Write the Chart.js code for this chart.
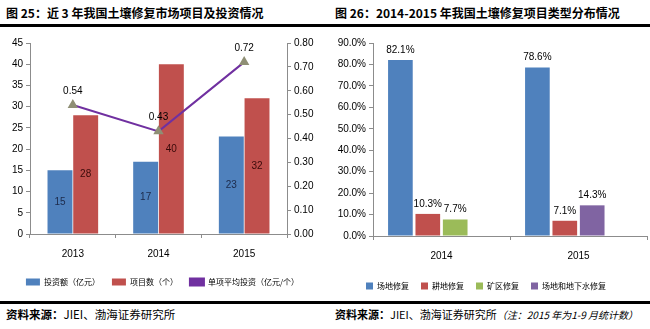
<!DOCTYPE html>
<html>
<head>
<meta charset="utf-8">
<script src="https://cdn.jsdelivr.net/npm/chart.js@4/dist/chart.umd.min.js"></script>
<style>
  body { margin:0; width:650px; height:329px; background:#fff; position:relative; overflow:hidden;
         font-family:"Noto Sans CJK SC", sans-serif; color:#000; }
  .title { position:absolute; top:5px; font-size:12px; font-weight:bold; white-space:nowrap; line-height:16px; }
  .rule { position:absolute; left:0; width:650px; height:3px; background:#000; }
  .panel { position:absolute; top:28px; width:325px; height:272px; }
  .src { position:absolute; top:306px; font-size:11.5px; white-space:nowrap; line-height:16px; }
  .src b { font-weight:bold; }
  .src i { font-size:10px; }
</style>
</head>
<body>
<div class="title" style="left:6px">图 25：近 3 年我国土壤修复市场项目及投资情况</div>
<div class="title" style="left:335px">图 26：2014-2015 年我国土壤修复项目类型分布情况</div>
<div class="rule" style="top:24px"></div>
<div class="panel" style="left:0"><canvas id="projChart"></canvas></div>
<div class="panel" style="left:325px"><canvas id="typeChart"></canvas></div>
<div class="rule" style="top:301px"></div>
<div class="src" style="left:6px"><b>资料来源：</b>JIEI、渤海证券研究所</div>
<div class="src" style="left:335px;font-size:11px"><b>资料来源：</b>JIEI、渤海证券研究所<i>（注：2015 年为1-9 月统计数）</i></div>

<script>
// fig 25
var years = ['2013', '2014', '2015'];
var investment = [15, 17, 23];       // 投资额（亿元）
var projects = [28, 40, 32];         // 项目数（个）
var avgInvest = [0.54, 0.43, 0.72];  // 单项平均投资（亿元/个）

// fig 26
var typeYears = ['2014', '2015'];
var siteShare = [82.1, 78.6];
var farmShare = [10.3, 7.1];
var mineShare = [7.7, null];
var siteWaterShare = [null, 14.3];

var tickFont = { family: "'Liberation Sans Narrow', 'Liberation Sans', sans-serif", size: 10 };
var legendFont = { family: "'Noto Sans CJK SC', sans-serif", size: 8 };
var axisGrey = '#8c8c8c';

var valueLabels = {
  id: 'valueLabels',
  afterDatasetsDraw: function(chart) {
    var ctx = chart.ctx;
    ctx.save();
    ctx.font = "10px 'Liberation Sans Narrow', 'Liberation Sans', sans-serif";
    ctx.textAlign = 'center';
    ctx.textBaseline = 'middle';
    chart.data.datasets.forEach(function(ds, i) {
      if (!ds.labelPos) return;
      var meta = chart.getDatasetMeta(i);
      meta.data.forEach(function(el, j) {
        var v = ds.data[j];
        if (v == null) return;
        var y;
        if (ds.labelPos === 'center') y = (el.y + el.base) / 2;
        else y = el.y - (ds.labelGap || 10);
        ctx.fillStyle = ds.labelColor || '#000';
        ctx.fillText(ds.labelFmt ? ds.labelFmt(v) : String(v), el.x, y);
      });
    });
    ctx.restore();
  }
};

function axisGrid() {
  return { drawOnChartArea: false, tickLength: 4, color: axisGrey };
}

new Chart(document.getElementById('projChart'), {
  type: 'bar',
  data: {
    labels: years,
    datasets: [{
      label: '投资额（亿元）',
      data: investment,
      backgroundColor: '#4F81BD',
      yAxisID: 'y',
      order: 1,
      labelPos: 'center',
      labelColor: '#1c2a4a'
    }, {
      label: '项目数（个）',
      data: projects,
      backgroundColor: '#C0504D',
      yAxisID: 'y',
      order: 1,
      labelPos: 'center',
      labelColor: '#3a0a0a'
    }, {
      type: 'line',
      label: '单项平均投资（亿元/个）',
      data: avgInvest,
      borderColor: '#7030A0',
      backgroundColor: '#7030A0',
      borderWidth: 2,
      pointStyle: 'triangle',
      pointRadius: 4,
      pointBackgroundColor: '#8f8f75',
      pointBorderColor: '#8f8f75',
      yAxisID: 'y1',
      order: 0,
      labelPos: 'above',
      labelGap: 14,
      labelFmt: function(v) { return v.toFixed(2); }
    }]
  },
  options: {
    responsive: true,
    maintainAspectRatio: false,
    animation: false,
    layout: { padding: { top: 15, left: 0, right: 0, bottom: 4 } },
    datasets: { bar: { categoryPercentage: 0.6, barPercentage: 0.97 } },
    scales: {
      x: {
        grid: Object.assign(axisGrid(), { offset: true }),
        border: { color: axisGrey },
        ticks: { font: tickFont, color: '#000', padding: 10 },
        afterFit: function(s) { s.height = 32; }
      },
      y: {
        position: 'left',
        min: 0, max: 45,
        grid: axisGrid(),
        border: { color: axisGrey },
        ticks: { stepSize: 5, font: tickFont, color: '#000', padding: 3 },
        afterFit: function(s) { s.width = 30; }
      },
      y1: {
        position: 'right',
        min: 0, max: 0.8,
        grid: axisGrid(),
        border: { color: axisGrey },
        ticks: { stepSize: 0.1, font: tickFont, color: '#000', padding: 3,
                 callback: function(v) { return v.toFixed(2); } },
        afterFit: function(s) { s.width = 38; }
      }
    },
    plugins: {
      legend: {
        position: 'bottom',
        labels: {
          font: legendFont, color: '#000', boxWidth: 14, boxHeight: 7, padding: 12,
          sort: function(a, b) { return a.datasetIndex - b.datasetIndex; }
        }
      },
      tooltip: { enabled: false }
    }
  },
  plugins: [valueLabels]
});

var pctFmt = function(v) { return v.toFixed(1) + '%'; };

new Chart(document.getElementById('typeChart'), {
  type: 'bar',
  data: {
    labels: typeYears,
    datasets: [{
      label: '场地修复',
      data: siteShare,
      backgroundColor: '#4F81BD',
      labelPos: 'above', labelFmt: pctFmt
    }, {
      label: '耕地修复',
      data: farmShare,
      backgroundColor: '#C0504D',
      labelPos: 'above', labelFmt: pctFmt
    }, {
      // the source sheet puts the 2015 site+groundwater bar in the third slot
      label: '矿区修复',
      data: mineShare.map(function(v, i) { return v != null ? v : siteWaterShare[i]; }),
      backgroundColor: mineShare.map(function(v) { return v != null ? '#9BBB59' : '#8064A2'; }),
      labelPos: 'above', labelFmt: pctFmt
    }, {
      label: '场地和地下水修复',
      data: typeYears.map(function() { return null; }),
      backgroundColor: '#8064A2'
    }]
  },
  options: {
    responsive: true,
    maintainAspectRatio: false,
    animation: false,
    layout: { padding: { top: 15, left: 0, right: 3, bottom: 0 } },
    datasets: { bar: { categoryPercentage: 0.8, barPercentage: 0.9 } },
    scales: {
      x: {
        grid: Object.assign(axisGrid(), { offset: true }),
        border: { color: axisGrey },
        ticks: { font: tickFont, color: '#000', padding: 10 },
        afterFit: function(s) { s.height = 34; }
      },
      y: {
        min: 0, max: 90,
        grid: axisGrid(),
        border: { color: axisGrey },
        ticks: { stepSize: 10, font: tickFont, color: '#000', padding: 3, callback: pctFmt },
        afterFit: function(s) { s.width = 48; }
      }
    },
    plugins: {
      legend: {
        position: 'bottom',
        labels: { font: legendFont, color: '#000', boxWidth: 7, boxHeight: 7, padding: 12 }
      },
      tooltip: { enabled: false }
    }
  },
  plugins: [valueLabels]
});
</script>
</body>
</html>
